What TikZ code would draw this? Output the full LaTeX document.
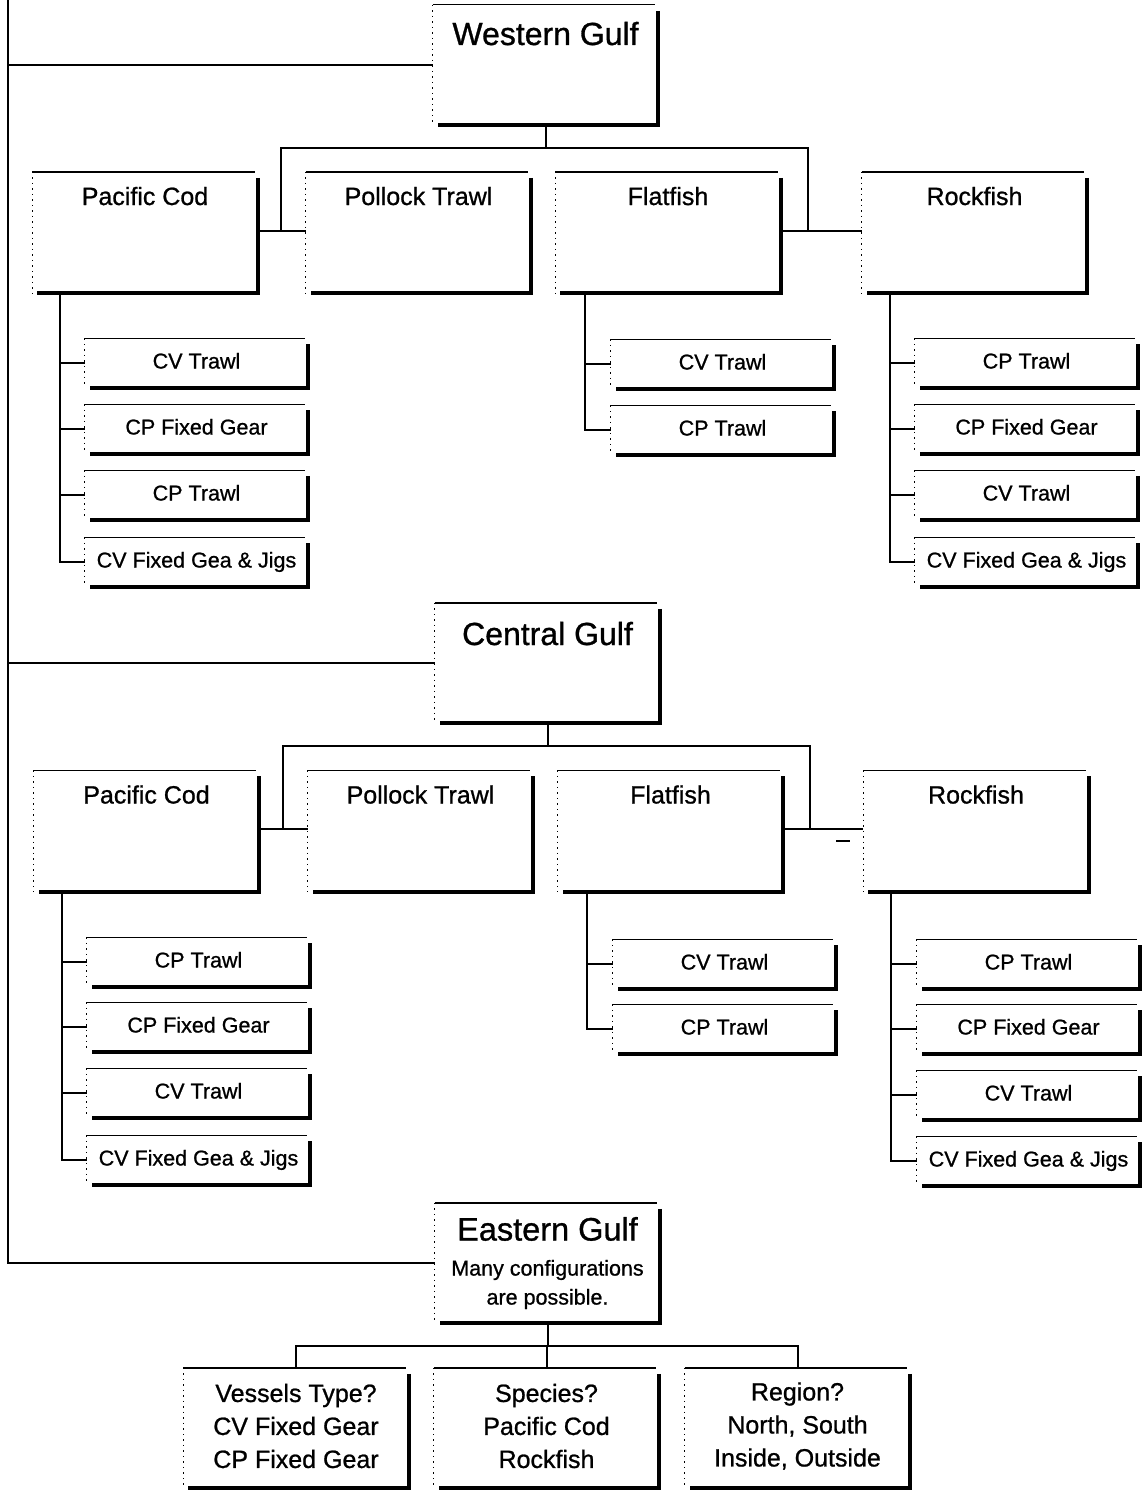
\documentclass[tikz,border=0pt]{standalone}
\usepackage{fontspec}
\setmainfont{Liberation Sans}[FakeBold=0.9]
\usetikzlibrary{calc}
\tikzset{
  conn/.style={line width=2pt},
  topedge/.style={line width=1.4pt},
  leftedge/.style={line width=1.3pt, dash pattern=on 1.5pt off 4pt},
  shadowedge/.style={line width=4pt, line join=miter},
  titlebox/.style={inner sep=0pt, minimum width=225pt, minimum height=120pt, font=\fontsize{32}{36}\selectfont},
  grpbox/.style={inner sep=0pt, minimum width=225pt, minimum height=121pt, text height=33pt, text depth=88pt, font=\fontsize{25}{30}\selectfont},
  subbox/.style={inner sep=0pt, minimum width=223pt, minimum height=49pt, text height=15pt, text depth=4pt, font=\fontsize{21.5}{25}\selectfont},
  qbox/.style={inner sep=0pt, minimum width=225pt, minimum height=120pt, align=center, font=\fontsize{25}{33}\selectfont}
}
\newcommand\gedges[1]{%
  \draw[topedge] (#1.north west) -- ([xshift=-3pt]#1.north east);
  \draw[leftedge] (#1.north west) -- (#1.south west);
  \draw[shadowedge] ([yshift=-6pt]#1.north east) -- (#1.south east) -- ([xshift=5pt]#1.south west);
}
\begin{document}
\begin{tikzpicture}[x=1pt,y=-1pt]
\useasboundingbox (0,0) rectangle (1146,1493);

% region boxes
\node[titlebox, text height=40pt, text depth=80pt] (wg) at (545.5,65) {Western Gulf};
\node[titlebox, text height=42pt, text depth=78pt] (cg) at (547.5,663) {Central Gulf};
\node[titlebox, align=center, font=\fontsize{21.5}{29}\selectfont] (eg) at (547.5,1263)
  {{\fontsize{32.5}{36}\selectfont Eastern Gulf}\\[6pt]Many configurations\\are possible.};

% row 1
\node[grpbox] (pc1) at (145,232.5) {Pacific Cod};
\node[grpbox] (pt1) at (418.5,232.5) {Pollock Trawl};
\node[grpbox] (ff1) at (668,232.5) {Flatfish};
\node[grpbox] (rf1) at (974.5,232.5) {Rockfish};

\node[subbox] (a1) at (196.5,363) {CV Trawl};
\node[subbox] (a2) at (196.5,429) {CP Fixed Gear};
\node[subbox] (a3) at (196.5,495) {CP Trawl};
\node[subbox] (a4) at (196.5,562) {CV Fixed Gea \& Jigs};
\node[subbox] (b1) at (722.5,364) {CV Trawl};
\node[subbox] (b2) at (722.5,430) {CP Trawl};
\node[subbox] (c1) at (1026.5,363) {CP Trawl};
\node[subbox] (c2) at (1026.5,429) {CP Fixed Gear};
\node[subbox] (c3) at (1026.5,495) {CV Trawl};
\node[subbox] (c4) at (1026.5,562) {CV Fixed Gea \& Jigs};

% row 2
\node[grpbox] (pc2) at (146.5,831) {Pacific Cod};
\node[grpbox] (pt2) at (420.5,831) {Pollock Trawl};
\node[grpbox] (ff2) at (670.5,831) {Flatfish};
\node[grpbox] (rf2) at (976,831) {Rockfish};

\node[subbox] (d1) at (198.5,962) {CP Trawl};
\node[subbox] (d2) at (198.5,1027) {CP Fixed Gear};
\node[subbox] (d3) at (198.5,1093) {CV Trawl};
\node[subbox] (d4) at (198.5,1160) {CV Fixed Gea \& Jigs};
\node[subbox] (e1) at (724.5,964) {CV Trawl};
\node[subbox] (e2) at (724.5,1029) {CP Trawl};
\node[subbox] (f1) at (1028.5,964) {CP Trawl};
\node[subbox] (f2) at (1028.5,1029) {CP Fixed Gear};
\node[subbox] (f3) at (1028.5,1095) {CV Trawl};
\node[subbox] (f4) at (1028.5,1161) {CV Fixed Gea \& Jigs};

% eastern questions
\node[qbox] (q1) at (296,1428) {};
\node[qbox] (q2) at (546.5,1428) {};
\node[qbox] (q3) at (797.5,1428) {};
\node[align=center, font=\fontsize{25}{33}\selectfont] (q1t) at (q1.center) [yshift=2pt] {Vessels Type?\\CV Fixed Gear\\CP Fixed Gear};
\node[align=center, font=\fontsize{25}{33}\selectfont] (q2t) at (q2.center) [yshift=2pt] {Species?\\Pacific Cod\\Rockfish};
\node[align=center, font=\fontsize{25}{33}\selectfont] (q3t) at (q3.center) [yshift=2pt] {Region?\\North, South\\Inside, Outside};

% coordinates
\coordinate (top) at (8,0);
\coordinate (bus1) at (0,148);
\coordinate (bus2) at (0,746);
\coordinate (bus3) at (0,1346);
\coordinate (m1) at (281,231);
\coordinate (m2) at (808,231);
\coordinate (m3) at (283,829);
\coordinate (m4) at (810,829);
\coordinate (sa) at (60,293);
\coordinate (sb) at (585,293);
\coordinate (sc) at (890,293);
\coordinate (sd) at (62,892);
\coordinate (se) at (587,892);
\coordinate (sf) at (891,892);
\coordinate (dash1) at (836,841);
\coordinate (dash2) at (850,841);

% left spine
\draw[conn] (top) |- (eg.west);
\draw[conn] (wg.west) -- (wg.west -| top);
\draw[conn] (cg.west) -- (cg.west -| top);

% western tree
\draw[conn] (wg.south) -- (wg.south |- bus1);
\draw[conn] (m1) -- (m1 |- bus1) -- (m2 |- bus1) -- (m2);
\draw[conn] (pc1.east |- m1) -- (pt1.west |- m1);
\draw[conn] (ff1.east |- m2) -- (rf1.west |- m2);
\draw[conn] (sa) |- (a4.west);
\foreach \n in {a1,a2,a3} \draw[conn] (\n.west) -- (\n.west -| sa);
\draw[conn] (sb) |- (b2.west);
\draw[conn] (b1.west) -- (b1.west -| sb);
\draw[conn] (sc) |- (c4.west);
\foreach \n in {c1,c2,c3} \draw[conn] (\n.west) -- (\n.west -| sc);

% central tree
\draw[conn] (cg.south) -- (cg.south |- bus2);
\draw[conn] (m3) -- (m3 |- bus2) -- (m4 |- bus2) -- (m4);
\draw[conn] (pc2.east |- m3) -- (pt2.west |- m3);
\draw[conn] (ff2.east |- m4) -- (rf2.west |- m4);
\draw[conn] (dash1) -- (dash2);
\draw[conn] (sd) |- (d4.west);
\foreach \n in {d1,d2,d3} \draw[conn] (\n.west) -- (\n.west -| sd);
\draw[conn] (se) |- (e2.west);
\draw[conn] (e1.west) -- (e1.west -| se);
\draw[conn] (sf) |- (f4.west);
\foreach \n in {f1,f2,f3} \draw[conn] (\n.west) -- (\n.west -| sf);

% eastern tree
\draw[conn] (eg.south) -- (eg.south |- bus3);
\draw[conn] (q1.north) -- (q1.north |- bus3) -- (q3.north |- bus3) -- (q3.north);
\draw[conn] (q2.north |- bus3) -- (q2.north);

% box edges
\foreach \n in {wg,cg,eg,pc1,pt1,ff1,rf1,a1,a2,a3,a4,b1,b2,c1,c2,c3,c4,pc2,pt2,ff2,rf2,d1,d2,d3,d4,e1,e2,f1,f2,f3,f4,q1,q2,q3} {\gedges{\n}}
\end{tikzpicture}
\end{document}
